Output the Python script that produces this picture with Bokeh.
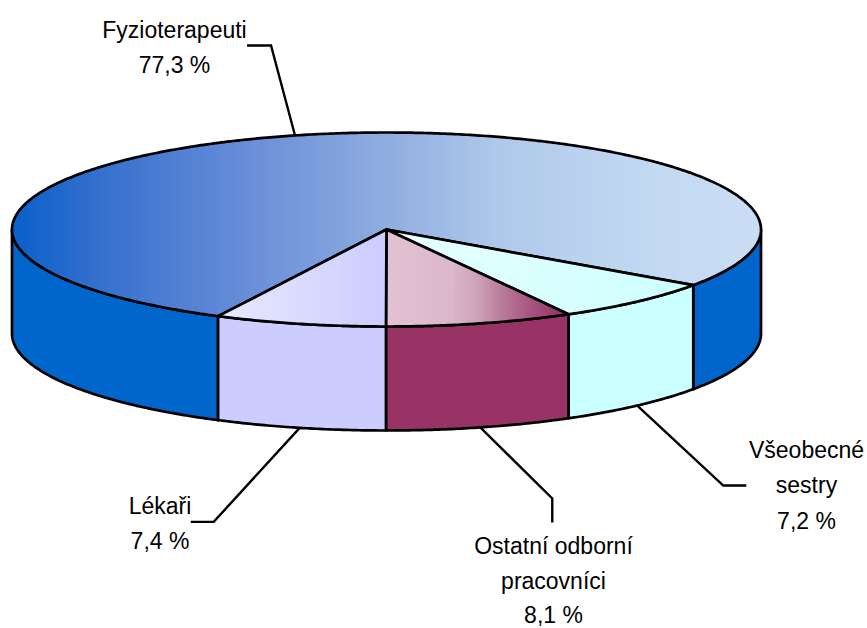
import math
from bokeh.plotting import figure
from bokeh.models import Range1d
from bokeh.core.properties import value
from bokeh.embed import file_html
from bokeh.resources import INLINE

# ---- data
categories = ["Fyzioterapeuti", "Všeobecné sestry", "Ostatní odborní pracovníci", "Lékaři"]
shares = [77.3, 7.2, 8.1, 7.4]
label_lines = [["Fyzioterapeuti", "77,3 %"], ["Všeobecné", "sestry", "7,2 %"],
               ["Ostatní odborní", "pracovníci", "8,1 %"], ["Lékaři", "7,4 %"]]

# ---- style / layout (page pixels)
CX, CY, RX, RY, DEPTH = 386.0, 229.0, 374.5, 97.0, 104.0
FIRST_BOUNDARY = 35.0          # the second slice starts here (degrees clockwise from east)
side_colors = ["#0066CC", "#CCFFFF", "#993366", "#CCCCFF"]
top_stops = [
    [(12, "#0A60CA"), (100, "#3570CE"), (250, "#6A8ED8"), (386, "#8FADE0"), (500, "#B0C9EB"), (650, "#C3D9F2"), (761, "#CADDF4")],
    [(386, "#E8FFFF"), (693, "#CCFFFF")],
    [(386, "#E2C2D2"), (450, "#DBB8CA"), (475, "#CFA4BA"), (500, "#BA7E9C"), (530, "#A65580"), (560, "#993366")],
    [(216, "#E9E9FF"), (386, "#CCCCFF")],
]
# leader: (elbow dx, elbow dy from anchor, stub dx), label x, first-line y
leaders = [(-24, -90, -24), (86, 80, 23), (72, 71, None), (-86, 94, -23)]
label_pos = [(174, 29), (806, 449), (553, 545.5), (159.5, 505)]
line_heights = [35.5, 35.5, 34.5, 35.5]
FONT = "Liberation Sans"
SIZE = "23px"

def pt(t, dz=0.0):
    a = math.radians(t)
    return CX + RX * math.cos(a), CY + RY * math.sin(a) + dz

def hex2rgb(h):
    return tuple(int(h[i:i + 2], 16) for i in (1, 3, 5))

def grad(stops, x):
    if x <= stops[0][0]:
        return stops[0][1]
    for (x0, c0), (x1, c1) in zip(stops, stops[1:]):
        if x <= x1:
            f = (x - x0) / (x1 - x0)
            a, b = hex2rgb(c0), hex2rgb(c1)
            return "#%02x%02x%02x" % tuple(round(u + (v - u) * f) for u, v in zip(a, b))
    return stops[-1][1]

def clip_right_of(poly, xc):
    out = []
    for (x0, y0), (x1, y1) in zip(poly, poly[1:] + poly[:1]):
        if x0 >= xc:
            out.append((x0, y0))
        if (x0 >= xc) != (x1 >= xc):
            f = (xc - x0) / (x1 - x0)
            out.append((xc, y0 + (y1 - y0) * f))
    return out

# slice angles from the values: first slice wraps round the back
spans = [s / sum(shares) * 360 for s in shares]
starts = []
a = FIRST_BOUNDARY - spans[0]
for sp in spans:
    starts.append(a)
    a += sp

p = figure(width=867, height=628, x_range=Range1d(0, 867), y_range=Range1d(628, 0),
           x_axis_type=None, y_axis_type=None, toolbar_location=None,
           output_backend="svg", min_border=0, outline_line_color=None)
p.grid.visible = False

LW = 2.7
# sides (front half only: 0..180 degrees)
for st, sp, col in zip(starts, spans, side_colors):
    for k in (-360, 0, 360):
        t0, t1 = max(st + k, 0), min(st + sp + k, 180)
        if t1 <= t0:
            continue
        n = max(2, int(t1 - t0) * 2)
        ts = [t0 + (t1 - t0) * i / n for i in range(n + 1)]
        top = [pt(t) for t in ts]
        bot = [pt(t, DEPTH) for t in reversed(ts)]
        poly = top + bot
        p.patch([q[0] for q in poly], [q[1] for q in poly], fill_color=col,
                line_color="black", line_width=LW, line_join="round")

# tops: gradient painted strip over strip, then outlined
for st, sp, stops in zip(starts, spans, top_stops):
    n = max(4, int(sp * 2))
    poly = [(CX, CY)] + [pt(st + sp * i / n) for i in range(n + 1)]
    xmin, xmax = min(q[0] for q in poly), max(q[0] for q in poly)
    xc = xmin
    xs, ys, cols = [], [], []
    while xc < xmax:
        c = clip_right_of(poly, xc)
        if len(c) >= 3:
            xs.append([q[0] for q in c]); ys.append([q[1] for q in c])
            cols.append(grad(stops, xc + 1.5))
        xc += 3
    p.patches(xs, ys, fill_color=cols, line_color=None)
    p.patch([q[0] for q in poly], [q[1] for q in poly], fill_color=None,
            line_color="black", line_width=LW, line_join="round")

# leaders, anchored at each slice's mid angle
for st, sp, (dx, dy, stub) in zip(starts, spans, leaders):
    mid = st + sp / 2
    visible_front = 0 < (mid % 360) < 180
    ax, ay = pt(mid, DEPTH if visible_front else 0)
    ex, ey = ax + dx, ay + dy
    if stub is None:
        xs, ys = [ax, ex, ex], [ay, ey, ey + 24]
    else:
        xs, ys = [ax, ex, ex + stub], [ay, ey, ey]
    p.line(xs, ys, line_color="black", line_width=2.4, line_join="miter")

# labels
for lines, (lx, ly), lh in zip(label_lines, label_pos, line_heights):
    for i, t in enumerate(lines):
        p.text([lx], [ly + i * lh], text=[t], text_align="center", text_baseline="middle",
               text_font=value(FONT), text_font_size=SIZE, text_color="#000000")

open("out.html", "w").write(file_html(p, INLINE))
